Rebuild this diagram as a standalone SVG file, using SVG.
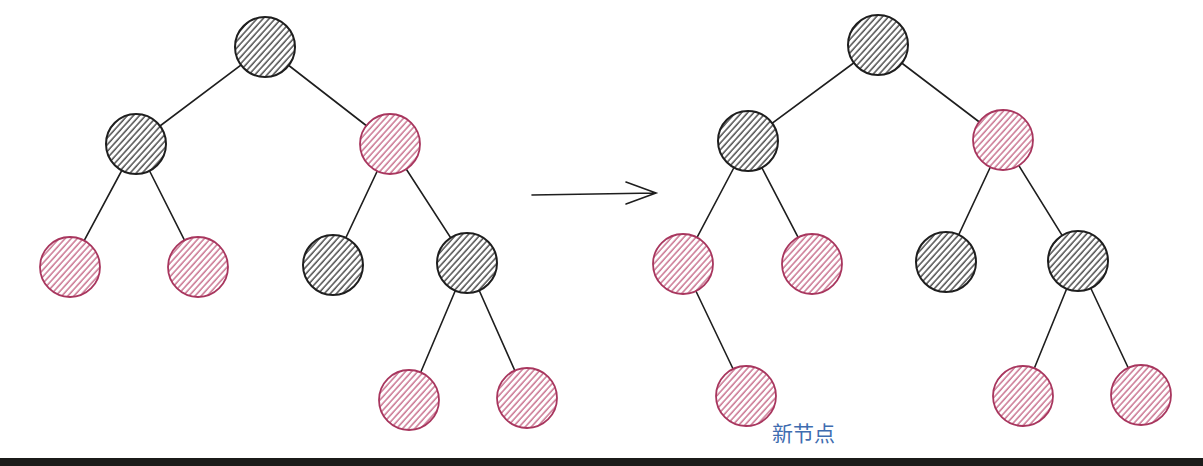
<svg xmlns="http://www.w3.org/2000/svg" width="1203" height="466" viewBox="0 0 1203 466">
<style>
.edge{stroke:#1e1e1e;stroke-width:1.6;fill:none;stroke-linecap:round}
.b{fill:url(#hb);stroke:#1e1e1e;stroke-width:2}
.r{fill:url(#hr);stroke:#a8365e;stroke-width:1.8}
.lbl{font-family:"Noto Sans CJK SC","Noto Sans",sans-serif;font-size:21px;fill:#3f6db0}
</style>
<defs>
<pattern id="hb" width="4.5" height="4.5" patternUnits="userSpaceOnUse" patternTransform="rotate(42)">
<rect width="4.5" height="4.5" fill="#ffffff"/>
<line x1="1" y1="0" x2="1" y2="4.5" stroke="#333333" stroke-width="1.3"/>
</pattern>
<pattern id="hr" width="4.5" height="4.5" patternUnits="userSpaceOnUse" patternTransform="rotate(42)">
<rect width="4.5" height="4.5" fill="#ffffff"/>
<line x1="1" y1="0" x2="1" y2="4.5" stroke="#c25f80" stroke-width="1.3"/>
</pattern>
</defs>
<rect width="1203" height="466" fill="#ffffff"/>
<g id="connectors">
<line class="edge" x1="265" y1="47" x2="136" y2="144"/>
<line class="edge" x1="265" y1="47" x2="390" y2="144"/>
<line class="edge" x1="136" y1="144" x2="70" y2="267"/>
<line class="edge" x1="136" y1="144" x2="198" y2="267"/>
<line class="edge" x1="390" y1="144" x2="333" y2="265"/>
<line class="edge" x1="390" y1="144" x2="467" y2="263"/>
<line class="edge" x1="467" y1="263" x2="409" y2="400"/>
<line class="edge" x1="467" y1="263" x2="527" y2="398"/>
<line class="edge" x1="878" y1="45" x2="748" y2="141"/>
<line class="edge" x1="878" y1="45" x2="1003" y2="140"/>
<line class="edge" x1="748" y1="141" x2="683" y2="264"/>
<line class="edge" x1="748" y1="141" x2="812" y2="264"/>
<line class="edge" x1="683" y1="264" x2="746" y2="396"/>
<line class="edge" x1="1003" y1="140" x2="946" y2="262"/>
<line class="edge" x1="1003" y1="140" x2="1078" y2="261"/>
<line class="edge" x1="1078" y1="261" x2="1023" y2="396"/>
<line class="edge" x1="1078" y1="261" x2="1141" y2="395"/>
<path id="arrow" class="edge" d="M532 195 L656 193 M626 182 L656 193 L626 204" stroke-width="2.2"/>
</g>
<g id="l-root"><circle class="b" cx="265" cy="47" r="30"/></g>
<g id="l-l"><circle class="b" cx="136" cy="144" r="30"/></g>
<g id="l-r"><circle class="r" cx="390" cy="144" r="30"/></g>
<g id="l-ll"><circle class="r" cx="70" cy="267" r="30"/></g>
<g id="l-lr"><circle class="r" cx="198" cy="267" r="30"/></g>
<g id="l-rl"><circle class="b" cx="333" cy="265" r="30"/></g>
<g id="l-rr"><circle class="b" cx="467" cy="263" r="30"/></g>
<g id="l-rrl"><circle class="r" cx="409" cy="400" r="30"/></g>
<g id="l-rrr"><circle class="r" cx="527" cy="398" r="30"/></g>
<g id="r-root"><circle class="b" cx="878" cy="45" r="30"/></g>
<g id="r-l"><circle class="b" cx="748" cy="141" r="30"/></g>
<g id="r-r"><circle class="r" cx="1003" cy="140" r="30"/></g>
<g id="r-ll"><circle class="r" cx="683" cy="264" r="30"/></g>
<g id="r-lr"><circle class="r" cx="812" cy="264" r="30"/></g>
<g id="r-llr"><circle class="r" cx="746" cy="396" r="30"/></g>
<g id="r-rl"><circle class="b" cx="946" cy="262" r="30"/></g>
<g id="r-rr"><circle class="b" cx="1078" cy="261" r="30"/></g>
<g id="r-rrl"><circle class="r" cx="1023" cy="396" r="30"/></g>
<g id="r-rrr"><circle class="r" cx="1141" cy="395" r="30"/></g>
<g id="label"><text class="lbl" x="772" y="441">新节点</text></g>
<rect x="0" y="458" width="1203" height="8" fill="#1b1b19"/>
</svg>
